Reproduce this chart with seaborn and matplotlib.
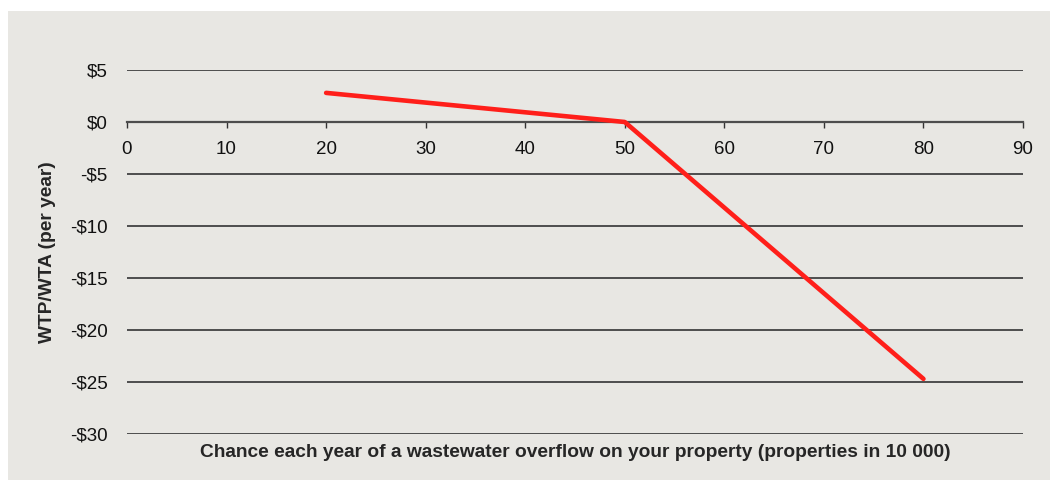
import pandas as pd
import seaborn as sns
import matplotlib.pyplot as plt
from matplotlib.patches import Rectangle

# data
chance = [20, 50, 80]
wtp = [2.8, 0.0, -24.7]
x_ticks = [0, 10, 20, 30, 40, 50, 60, 70, 80, 90]
y_ticks = [5, 0, -5, -10, -15, -20, -25, -30]
y_labels = ["$5", "$0", "-$5", "-$10", "-$15", "-$20", "-$25", "-$30"]

df = pd.DataFrame({"chance": chance, "wtp": wtp})

sns.set_style("white")
plt.rcParams["font.family"] = ["Liberation Sans", "DejaVu Sans"]

bg = "#e8e7e3"
fig = plt.figure(figsize=(10.55, 4.86), dpi=100, facecolor="white")
# grey panel behind the chart
fig.patches.append(Rectangle((8 / 1055, 1 - 480 / 486), 1042 / 1055, 469 / 486,
                             transform=fig.transFigure, facecolor=bg,
                             edgecolor="none", zorder=-10))

ax = fig.add_axes([127 / 1055, 1 - 434 / 486, 896 / 1055, 364 / 486])
ax.set_facecolor(bg)

for yv in y_ticks:
    if yv != 0:
        ax.axhline(yv, color="#4d4d4d", lw=1.4, zorder=1)

sns.lineplot(data=df, x="chance", y="wtp", color="#ff1f1a", lw=3.3, ax=ax, zorder=3)

ax.set_xlim(0, 90)
ax.set_ylim(-30, 5)
ax.set_xticks(x_ticks)
ax.set_yticks(y_ticks)
ax.set_yticklabels(y_labels)

for s in ["top", "right", "left"]:
    ax.spines[s].set_visible(False)
ax.spines["bottom"].set_position(("data", 0))
ax.spines["bottom"].set_color("#4d4d4d")
ax.spines["bottom"].set_linewidth(1.6)

ax.tick_params(axis="x", direction="out", length=4.5, width=1, color="#333333",
               pad=9, labelsize=13.5, labelcolor="#111111", bottom=True)
ax.tick_params(axis="y", length=0, pad=14, labelsize=13.5, labelcolor="#111111")

ax.set_xlabel("")
ax.set_ylabel("WTP/WTA (per year)", fontsize=13.8, fontweight="bold", labelpad=10)

fig.text(575 / 1055, 1 - 452 / 486,
         "Chance each year of a wastewater overflow on your property (properties in 10 000)",
         ha="center", va="center", fontsize=13.8, fontweight="bold")

fig.savefig("out.png", dpi=100, facecolor=fig.get_facecolor())
